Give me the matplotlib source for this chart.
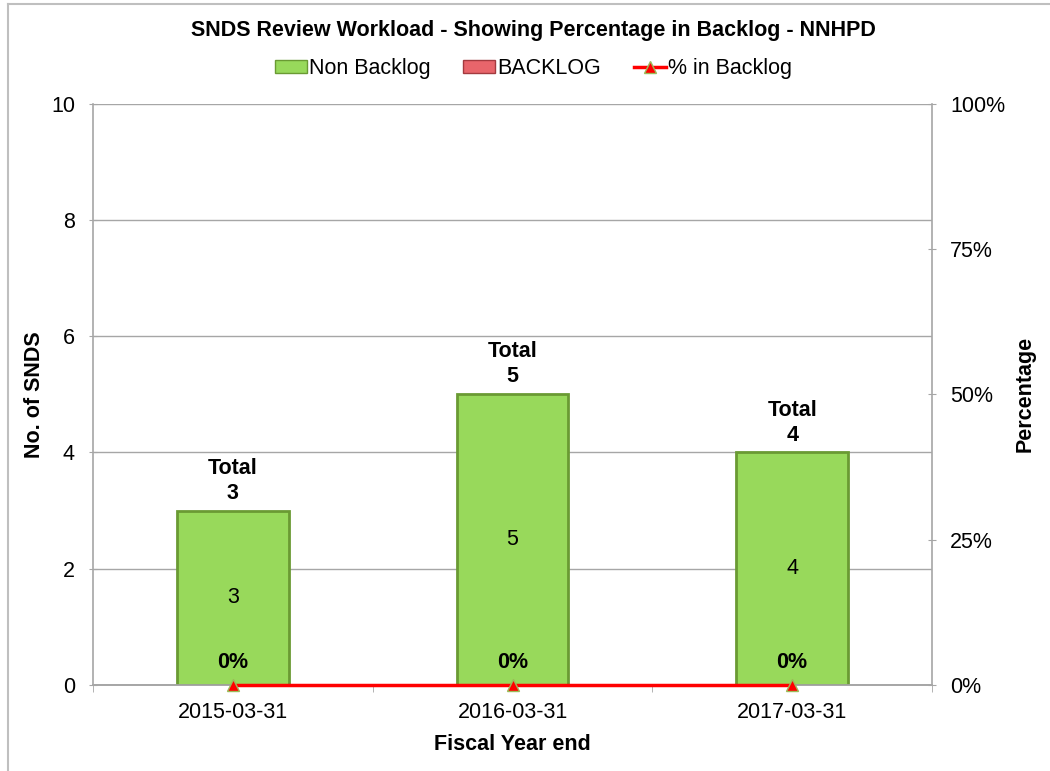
"""
SNDS Review Workload - bar chart with backlog percentage line.
"""
import matplotlib
matplotlib.use('Agg')
import matplotlib.pyplot as plt
from matplotlib.lines import Line2D
from matplotlib.patches import Patch
from matplotlib.ticker import PercentFormatter

plt.rcParams['font.family'] = ['Liberation Sans', 'DejaVu Sans']

# Datos
years = ['2015-03-31', '2016-03-31', '2017-03-31']
non_backlog = [3, 5, 4]
backlog = [0, 0, 0]
pct_backlog = [0, 0, 0]

green = '#98D95B'
green_edge = '#6A9A33'
red = '#E8656B'
grid_col = '#A6A6A6'
fs = 15.5

fig = plt.figure(figsize=(10.5, 7.71), dpi=100)
ax = fig.add_axes([0.0886, 0.1115, 0.799, 0.754])
ax2 = ax.twinx()

x = list(range(len(years)))
totals = [a + b for a, b in zip(non_backlog, backlog)]

# Barras apiladas
ax.bar(x, non_backlog, width=0.4, color=green, edgecolor=green_edge,
       linewidth=2, zorder=3)
ax.bar(x, backlog, width=0.4, bottom=non_backlog, color=red,
       edgecolor='#A33A3F', linewidth=0, zorder=3)

for xi, nb, tot in zip(x, non_backlog, totals):
    ax.text(xi, nb / 2, str(nb), ha='center', va='center', fontsize=fs,
            zorder=5)
    ax.annotate(f'Total\n{tot}', (xi, tot), xytext=(0, 5),
                textcoords='offset points', ha='center', va='bottom',
                fontsize=fs, fontweight='bold', linespacing=1.25)

# Línea de porcentaje
ax2.plot(x, pct_backlog, color='#FF0000', linewidth=2.5, marker='^',
         markersize=9, markerfacecolor='#FF0000', markeredgecolor='#9BBB59',
         clip_on=False, zorder=6)
for xi, p in zip(x, pct_backlog):
    ax2.annotate(f'{p:.0f}%', (xi, p), xytext=(0, 9),
                 textcoords='offset points', ha='center', va='bottom',
                 fontsize=fs, fontweight='bold')

# Ejes
ax.set_xlim(-0.5, 2.5)
ax.set_ylim(0, 10)
ax.set_yticks([0, 2, 4, 6, 8, 10])
ax.set_xticks(x)
ax.set_xticklabels(years, fontsize=fs)
ax.set_xticks([-0.5, 0.5, 1.5, 2.5], minor=True)
ax.tick_params(axis='x', which='major', length=0, pad=12)
ax.tick_params(axis='x', which='minor', length=5, color=grid_col)
ax.tick_params(axis='y', labelsize=fs, length=6, color=grid_col,
               direction='inout', pad=10)
ax.grid(axis='y', color=grid_col, linewidth=1, zorder=0)
ax.set_axisbelow(True)

ax2.set_ylim(0, 100)
ax2.set_yticks([0, 25, 50, 75, 100])
ax2.yaxis.set_major_formatter(PercentFormatter(decimals=0))
ax2.tick_params(axis='y', labelsize=fs, length=6, color=grid_col,
                direction='inout', pad=10)

for a in (ax, ax2):
    a.spines['top'].set_visible(False)
    for s in ('left', 'right', 'bottom'):
        a.spines[s].set_color(grid_col)
        a.spines[s].set_linewidth(1.2)
ax.spines['right'].set_visible(False)
ax2.spines['left'].set_visible(False)

ax.set_ylabel('No. of SNDS', fontsize=fs, fontweight='bold', labelpad=4)
ax2.set_ylabel('Percentage', fontsize=fs, fontweight='bold', labelpad=7)
ax.set_xlabel('Fiscal Year end', fontsize=fs, fontweight='bold', labelpad=8)

fig.text(0.508, 0.96, 'SNDS Review Workload - Showing Percentage in Backlog - NNHPD',
         ha='center', va='center', fontsize=fs, fontweight='bold')

handles = [
    Patch(facecolor=green, edgecolor=green_edge),
    Patch(facecolor=red, edgecolor='#A33A3F'),
    Line2D([0], [0], color='#FF0000', linewidth=2.5, marker='^',
           markersize=9, markerfacecolor='#FF0000', markeredgecolor='#9BBB59'),
]
fig.legend(handles, ['Non Backlog', 'BACKLOG', '% in Backlog'],
           loc='center', bbox_to_anchor=(0.508, 0.911), ncol=3, frameon=False,
           fontsize=fs, handlelength=1.5, handleheight=0.6, handletextpad=0.1,
           columnspacing=1.5)

# Marco exterior
fig.add_artist(Line2D([0.008, 0.008], [0, 0.995], transform=fig.transFigure,
                      color='#BFBFBF', linewidth=1.5))
fig.add_artist(Line2D([0.008, 1], [0.995, 0.995], transform=fig.transFigure,
                      color='#BFBFBF', linewidth=1.5))

fig.savefig('out.png', dpi=100)
